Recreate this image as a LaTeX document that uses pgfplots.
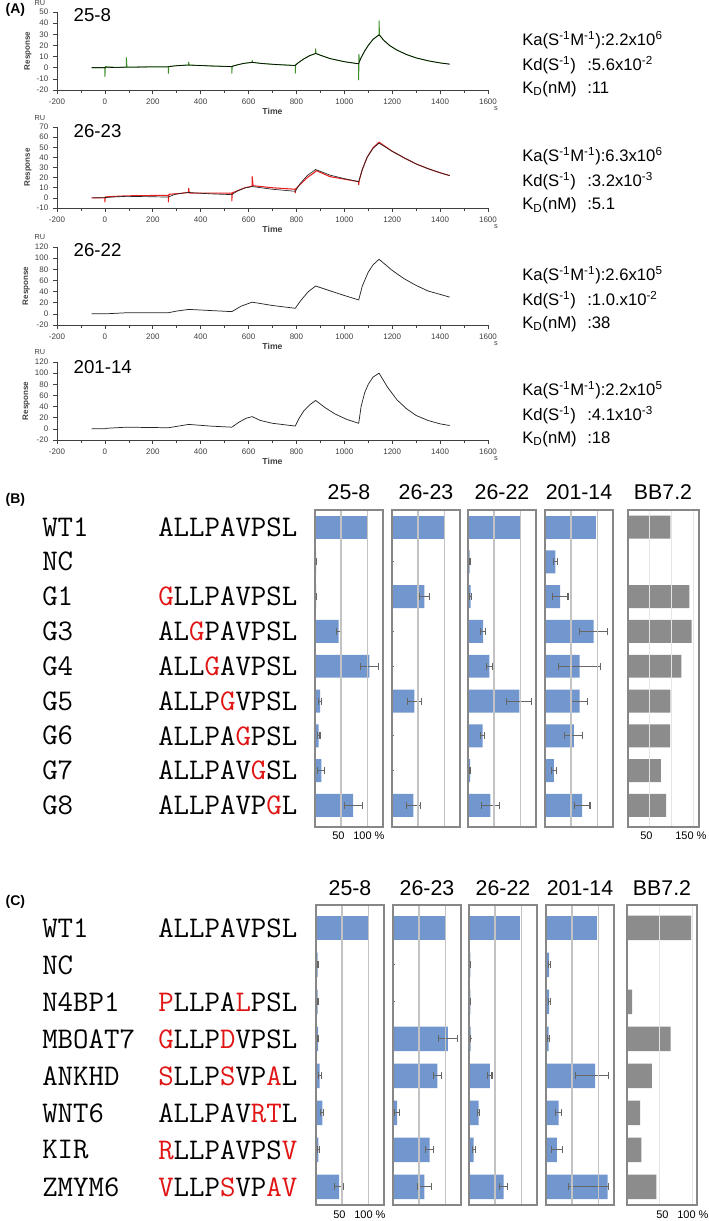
\documentclass[border=0pt]{standalone}
\usepackage{pgfplots}
\pgfplotsset{compat=1.18}
\usepackage{fontspec}
\setmainfont{Liberation Sans}
\definecolor{barblue}{RGB}{114,151,206}
\definecolor{bargray}{RGB}{140,140,140}
\definecolor{framegray}{RGB}{135,135,135}
\definecolor{gridgray}{RGB}{195,195,195}
\definecolor{seqred}{RGB}{225,20,20}
\definecolor{sprgreen}{RGB}{60,140,40}
\definecolor{sprred}{RGB}{235,30,30}
\newcommand{\R}[1]{\textcolor{seqred}{#1}}
\pgfplotsset{
 spr/.style={scale only axis, width=323.25pt, xmin=-200, xmax=1600,
  xtick={-200,0,...,1600}, minor x tick num=1,
  axis x line*=bottom, axis y line*=left,
  axis line style={-, draw=black!75, line width=0.5pt},
  tick style={draw=black!75, line width=0.45pt}, tick align=outside,
  major tick length=3pt, minor tick length=2pt,
  tick label style={font=\fontsize{6}{7}\selectfont, text=black!75},
  /pgf/number format/assume math mode=true, /pgf/number format/1000 sep={},
  xlabel={Time}, ylabel={Response},
  xlabel style={font=\fontsize{6.5}{7}\selectfont\bfseries, text=black!75, yshift=4pt},
  ylabel style={font=\fontsize{6}{7}\selectfont\bfseries, text=black!75, yshift=-3pt},
  every axis plot/.append style={line join=round}},
 barax/.style={scale only axis, xbar, xmin=0, xmax=130, y dir=reverse,
  every axis plot/.append style={bar shift=0pt},
  ytick=\empty, xtick={50,100}, xticklabels=\empty, xmajorgrids,
  grid style={draw=gridgray, line width=1.1pt}, major tick length=0pt,
  axis line style={draw=framegray, line width=1.4pt}, bar width=0.66, axis on top,
  error bars/x dir=both, error bars/x explicit, error bars/error mark=|,
  error bars/error bar style={draw=black!60, line width=0.8pt},
  error bars/error mark options={draw=black!60, line width=0.8pt, mark size=2.6pt}},
 barB/.style={barax, width=51pt, height=237.75pt, ymin=-0.49, ymax=8.62},
 barC/.style={barax, width=51pt, height=225pt, ymin=-0.62, ymax=7.49},
 noerr/.style={error bars/x dir=none},
}
\begin{document}
\begin{tikzpicture}
\useasboundingbox (0,0) rectangle (531.75pt,-915.75pt);
\fill[white] (0,0) rectangle (531.75pt,-915.75pt);
% ---------------- Panel A ----------------
\begin{axis}[spr, at={(42.75pt,-67.5pt)}, anchor=south west, height=58.5pt, ymin=-20, ymax=50, ytick={-20,-10,...,50}]
\addplot[sprgreen, line width=0.7pt] coordinates {(-55,0) (0,0) (0,-8) (2,1) (45,0.3) (90,0.5) (90,9) (92,0.5) (180,0.7) (265,0.8) (265,-5) (267,1.2) (320,2.1) (350,2.4) (350,5) (352,2.4) (440,1.6) (530,1.0) (530,-5) (532,1.5) (580,3.9) (615,4.8) (615,6.5) (617,4.8) (660,3.7) (720,2.8) (795,2.0) (795,-5) (797,3) (830,7.8) (855,10.8) (880,12.8) (880,17) (882,12.8) (900,11.2) (940,8.2) (1000,5.4) (1060,3.5) (1060,-11) (1061,12) (1063,6) (1070,9) (1085,15) (1100,20) (1120,25.5) (1145,29.5) (1145,42) (1147,29.5) (1165,24.5) (1190,19.8) (1220,15.8) (1260,11.8) (1300,8.8) (1350,6.2) (1400,4.3) (1440,3.2)};
\addplot[black, line width=0.45pt] coordinates {(-55,0) (0,0) (45,0.3) (90,0.5) (180,0.7) (265,0.8) (290,1.6) (320,2.1) (350,2.4) (440,1.6) (530,1.0) (550,2.4) (580,3.9) (615,4.8) (660,3.7) (720,2.8) (795,2.0) (810,4.8) (830,7.8) (855,10.8) (880,12.8) (900,11.2) (940,8.2) (1000,5.4) (1060,3.5) (1070,9) (1085,15) (1100,20) (1120,25.5) (1145,29.5) (1165,24.5) (1190,19.8) (1220,15.8) (1260,11.8) (1300,8.8) (1350,6.2) (1400,4.3) (1440,3.2)};
\end{axis}
\begin{axis}[spr, at={(42.75pt,-156pt)}, anchor=south west, height=60.75pt, ymin=-10, ymax=70, ytick={-10,0,...,70}]
\addplot[sprred, line width=0.8pt] coordinates {(-55,0) (0,0) (0,-4) (2,1) (90,2) (180,2.3) (265,2.5) (265,-4) (267,3.5) (320,4.5) (350,5.5) (350,9.5) (352,4.8) (440,4.7) (530,4.6) (530,-3) (532,5) (585,10) (615,11.5) (615,21) (619,12) (700,10) (795,8.5) (795,5) (797,9) (845,20) (880,26) (882,27) (940,21) (1000,18.5) (1060,16) (1060,13) (1062,17) (1075,28) (1095,40) (1120,49.5) (1145,55) (1200,46) (1250,39.5) (1300,33.5) (1350,28.8) (1400,24.8) (1440,22)};
\addplot[black!85, line width=0.5pt] coordinates {(-55,0) (0,0.3) (45,1.0) (90,1.5) (180,1.2) (265,0.8) (290,3.3) (320,4.6) (350,5.3) (440,4.0) (530,3.2) (555,7) (585,9.8) (615,11.2) (700,8.5) (795,6.5) (815,14) (845,22) (880,28) (940,22.5) (1000,19) (1060,16) (1075,28) (1095,40) (1120,49) (1145,54) (1200,46) (1250,39.5) (1300,33.5) (1350,28.8) (1400,24.8) (1440,22)};
\end{axis}
\begin{axis}[spr, at={(42.75pt,-243.75pt)}, anchor=south west, height=58.5pt, ymin=-20, ymax=120, ytick={-20,0,...,120}]
\addplot[black!85, line width=0.55pt] coordinates {(-55,0) (0,0) (90,2) (265,2) (300,5) (350,8) (440,6) (530,4) (570,14) (615,21) (700,15) (795,10) (820,25) (850,40) (880,50) (950,40) (1000,33) (1060,25) (1075,50) (1100,75) (1120,88) (1145,98) (1200,78) (1250,63) (1300,51) (1350,41) (1400,35) (1440,30)};
\end{axis}
\begin{axis}[spr, at={(42.75pt,-330pt)}, anchor=south west, height=58.5pt, ymin=-20, ymax=120, ytick={-20,0,...,120}]
\addplot[black!85, line width=0.55pt] coordinates {(-55,0) (0,0) (5,1) (90,3) (265,2) (350,8) (440,5) (530,3) (560,12) (590,19) (615,22) (650,15) (700,10) (795,5) (810,18) (830,32) (855,43) (880,51) (920,38) (960,27) (1010,17) (1060,10) (1070,40) (1085,65) (1100,80) (1120,93) (1145,100) (1180,75) (1220,52) (1260,36) (1300,24) (1350,15) (1400,9) (1440,6)};
\end{axis}
% B bars
\begin{axis}[barB, at={(236.25pt,-620.25pt)}, anchor=south west]
\addplot[fill=barblue, draw=none, noerr] coordinates {(99.5,0)};
\addplot[fill=barblue, draw=none] coordinates {(2,1) +- (0.5,0) (2,2) +- (0.5,0) (45,3) +- (4,0) (104,4) +- (17,0) (10,5) +- (2.5,0) (7,6) +- (2.5,0) (12,7) +- (7,0) (73,8) +- (17,0)};
\end{axis}
\begin{axis}[barB, at={(294pt,-620.25pt)}, anchor=south west]
\addplot[fill=barblue, draw=none, noerr] coordinates {(99.5,0)};
\addplot[fill=barblue, draw=none] coordinates {(1,1) +- (0.3,0) (62,2) +- (9,0) (1,3) +- (0.3,0) (1,4) +- (0.3,0) (43,5) +- (14,0) (1,6) +- (0.3,0) (1,7) +- (0.3,0) (41,8) +- (14,0)};
\end{axis}
\begin{axis}[barB, at={(351pt,-620.25pt)}, anchor=south west]
\addplot[fill=barblue, draw=none, noerr] coordinates {(99,0)};
\addplot[fill=barblue, draw=none] coordinates {(3,1) +- (1,0) (5,2) +- (2,0) (29,3) +- (5,0) (41,4) +- (5,0) (98,5) +- (24,0) (28,6) +- (4,0) (4,7) +- (1.5,0) (43,8) +- (17,0)};
\end{axis}
\begin{axis}[barB, at={(408.75pt,-620.25pt)}, anchor=south west]
\addplot[fill=barblue, draw=none, noerr] coordinates {(98,0)};
\addplot[fill=barblue, draw=none] coordinates {(20,1) +- (4,0) (29,2) +- (15,0) (93,3) +- (27,0) (66,4) +- (40,0) (66,5) +- (15,0) (55,6) +- (17,0) (17,7) +- (5,0) (71,8) +- (15,0)};
\end{axis}
\begin{axis}[barB, at={(471pt,-620.25pt)}, anchor=south west, width=53.25pt, xmax=164, xtick={50,100,150}, grid style={draw=black!10, line width=0.5pt}]
\addplot[fill=bargray, draw=none, noerr] coordinates {(98,0) (0,1) (142,2) (147,3) (123,4) (98,5) (97,6) (76,7) (88,8)};
\end{axis}
% C bars
\begin{axis}[barC, at={(237pt,-903.75pt)}, anchor=south west]
\addplot[fill=barblue, draw=none, noerr] coordinates {(100,0)};
\addplot[fill=barblue, draw=none] coordinates {(3,1) +- (1,0) (3,2) +- (1,0) (4,3) +- (1.5,0) (7,4) +- (3,0) (12,5) +- (3,0) (4.5,6) +- (1.5,0) (44,7) +- (8,0)};
\end{axis}
\begin{axis}[barC, at={(294.75pt,-903.75pt)}, anchor=south west]
\addplot[fill=barblue, draw=none, noerr] coordinates {(101,0)};
\addplot[fill=barblue, draw=none] coordinates {(1,1) +- (0.3,0) (1,2) +- (0.3,0) (105,3) +- (18,0) (85,4) +- (8,0) (8,5) +- (5,0) (70,6) +- (7,0) (60,7) +- (13,0)};
\end{axis}
\begin{axis}[barC, at={(351.75pt,-903.75pt)}, anchor=south west]
\addplot[fill=barblue, draw=none, noerr] coordinates {(98,0)};
\addplot[fill=barblue, draw=none] coordinates {(2.5,1) +- (0.5,0) (2.5,2) +- (0.5,0) (3,3) +- (0.5,0) (40,4) +- (4,0) (18.5,5) +- (2,0) (9,6) +- (3,0) (66,7) +- (7,0)};
\end{axis}
\begin{axis}[barC, at={(409.5pt,-903.75pt)}, anchor=south west]
\addplot[fill=barblue, draw=none, noerr] coordinates {(98,0)};
\addplot[fill=barblue, draw=none] coordinates {(6,1) +- (2,0) (6,2) +- (2,0) (5,3) +- (2,0) (94,4) += (26,0) -= (38,0) (24,5) +- (6,0) (21,6) +- (10,0) (118,7) += (2,0) -= (75,0)};
\end{axis}
\begin{axis}[barC, at={(470.25pt,-903.75pt)}, anchor=south west, width=52.5pt, xmax=107, grid style={draw=black!10, line width=0.5pt}]
\addplot[fill=bargray, draw=none, noerr] coordinates {(98,0) (0,1) (7.7,2) (66.5,3) (38,4) (20,5) (22,6) (45,7)};
\end{axis}
% ---------------- text ----------------
\begin{scope}[x=0.75pt,y=-0.75pt]
\node[anchor=west, font=\fontsize{10.5}{12}\selectfont\bfseries] at (1,10) {(A)};
\foreach \t in {3,118,237,352} \node[font=\fontsize{5.5}{6}\selectfont, text=black!75] at (40,\t) {RU};
\foreach \t in {109,227,344,459} \node[font=\fontsize{5.5}{6}\selectfont, text=black!75] at (496,\t) {s};
\begin{scope}[every node/.style={font=\fontsize{14}{16}\selectfont, anchor=west}]
\node at (69,15) {25-8};
\node at (69,131) {26-23};
\node at (69,250) {26-22};
\node at (69,367) {201-14};
\end{scope}
\begin{scope}[every node/.style={font=\fontsize{12.5}{14}\selectfont, anchor=base west, inner sep=0pt}]
\node at (522,45) {Ka(S\textsuperscript{-1}M\textsuperscript{-1}):2.2x10\textsuperscript{6}};
\node at (522,70) {\makebox[48.75pt][l]{Kd(S\textsuperscript{-1})}:5.6x10\textsuperscript{-2}};
\node at (522,93) {\makebox[48.75pt][l]{K\textsubscript{D}(nM)}:11};
\node at (522,161.5) {Ka(S\textsuperscript{-1}M\textsuperscript{-1}):6.3x10\textsuperscript{6}};
\node at (522,186.5) {\makebox[48.75pt][l]{Kd(S\textsuperscript{-1})}:3.2x10\textsuperscript{-3}};
\node at (522,209.5) {\makebox[48.75pt][l]{K\textsubscript{D}(nM)}:5.1};
\node at (522,280) {Ka(S\textsuperscript{-1}M\textsuperscript{-1}):2.6x10\textsuperscript{5}};
\node at (522,305) {\makebox[48.75pt][l]{Kd(S\textsuperscript{-1})}:1.0.x10\textsuperscript{-2}};
\node at (522,328) {\makebox[48.75pt][l]{K\textsubscript{D}(nM)}:38};
\node at (522,395) {Ka(S\textsuperscript{-1}M\textsuperscript{-1}):2.2x10\textsuperscript{5}};
\node at (522,420) {\makebox[48.75pt][l]{Kd(S\textsuperscript{-1})}:4.1x10\textsuperscript{-3}};
\node at (522,443) {\makebox[48.75pt][l]{K\textsubscript{D}(nM)}:18};
\end{scope}
\node[anchor=west, font=\fontsize{10.5}{12}\selectfont\bfseries] at (1,500) {(B)};
\node[anchor=west, font=\fontsize{10.5}{12}\selectfont\bfseries] at (1,902) {(C)};
\begin{scope}[every node/.style={font=\fontsize{16}{18}\selectfont}]
\node at (349,492) {25-8}; \node at (426,492) {26-23}; \node at (502,492) {26-22};
\node at (579,492) {201-14}; \node at (663,492) {BB7.2};
\node at (350,888) {25-8}; \node at (427,888) {26-23}; \node at (503,888) {26-22};
\node at (580,888) {201-14}; \node at (662,888) {BB7.2};
\end{scope}
\begin{scope}[every node/.style={font=\fontsize{22.5}{24}\selectfont\ttfamily, anchor=west, inner sep=0pt}]
\node at (42,527) {WT1};   \node at (158,527) {ALLPAVPSL};
\node at (42,561.8) {NC};
\node at (42,596.6) {G1};  \node at (158,596.6) {\R{G}LLPAVPSL};
\node at (42,631.4) {G3};  \node at (158,631.4) {AL\R{G}PAVPSL};
\node at (42,666.2) {G4};  \node at (158,666.2) {ALL\R{G}AVPSL};
\node at (42,701) {G5};    \node at (158,701) {ALLP\R{G}VPSL};
\node at (42,735.8) {G6};  \node at (158,735.8) {ALLPA\R{G}PSL};
\node at (42,770.6) {G7};  \node at (158,770.6) {ALLPAV\R{G}SL};
\node at (42,805.4) {G8};  \node at (158,805.4) {ALLPAVP\R{G}L};
\node at (42,928) {WT1};    \node at (158,928) {ALLPAVPSL};
\node at (42,965) {NC};
\node at (42,1002) {N4BP1}; \node at (158,1002) {\R{P}LLPA\R{L}PSL};
\node at (42,1039) {MBOAT7};\node at (158,1039) {\R{G}LLP\R{D}VPSL};
\node at (42,1076) {ANKHD}; \node at (158,1076) {\R{S}LLP\R{S}VP\R{A}L};
\node at (42,1113) {WNT6};  \node at (158,1113) {ALLPAV\R{RT}L};
\node at (42,1150) {KIR};   \node at (158,1150) {\R{R}LLPAVPS\R{V}};
\node at (42,1187) {ZMYM6}; \node at (158,1187) {\R{V}LLP\R{S}VP\R{AV}};
\end{scope}
\begin{scope}[every node/.style={font=\fontsize{8.25}{9}\selectfont, anchor=west, inner sep=0pt}]
\node at (332,836) {50}; \node at (353,836) {100 \%};
\node at (640,836) {50}; \node at (675,836) {150 \%};
\node at (333,1215) {50}; \node at (354,1215) {100 \%};
\node at (656,1215) {50}; \node at (677,1215) {100 \%};
\end{scope}
\end{scope}
\end{tikzpicture}
\end{document}
